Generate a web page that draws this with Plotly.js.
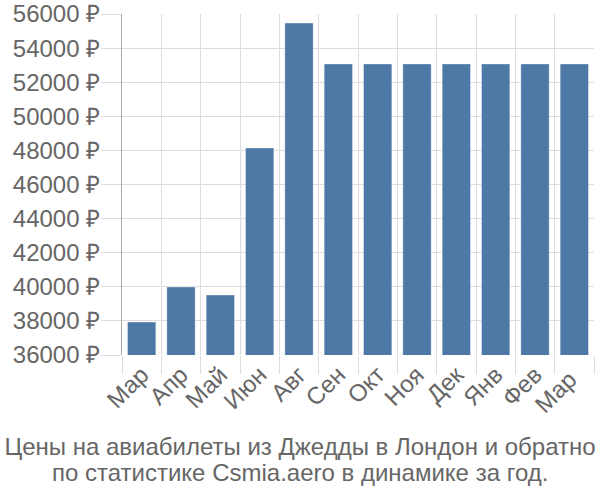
<!DOCTYPE html>
<html>
<head>
<meta charset="utf-8">
<script src="https://cdn.plot.ly/plotly-3.0.1.min.js"></script>
<style>html,body{margin:0;padding:0;background:#fff;}#chart{width:600px;height:500px;}</style>
</head>
<body>
<div id="chart"></div>
<script>
const months = ["Мар","Апр","Май","Июн","Авг","Сен","Окт","Ноя","Дек","Янв","Фев","Мар "];
const prices = [37930, 39990, 39520, 48140, 55470, 53070, 53070, 53070, 53070, 53070, 53070, 53070];
const yTicks = [36000, 38000, 40000, 42000, 44000, 46000, 48000, 50000, 52000, 54000, 56000];
const titleLines = ["Цены на авиабилеты из Джедды в Лондон и обратно", "по статистике Csmia.aero в динамике за год."];

const tickFont = {family: "Liberation Sans, Arial, sans-serif", size: 24, color: "#666"};
const titleFont = {family: "Liberation Sans, Arial, sans-serif", size: 24, color: "#666"};

Plotly.newPlot("chart", [{
  type: "bar",
  x: months,
  y: prices,
  marker: {color: "#4e79a7", line: {color: "rgba(255,255,255,0.35)", width: 1}},
  hoverinfo: "none"
}], {
  width: 600, height: 500,
  margin: {l: 122, r: 6, t: 14, b: 145},
  paper_bgcolor: "#fff", plot_bgcolor: "#fff",
  font: tickFont,
  bargap: 0.28,
  showlegend: false,
  title: {text: titleLines[0], x: 0.5, xanchor: "center", y: 0.106, yanchor: "middle", font: titleFont},
  annotations: [{
    text: titleLines[1], xref: "paper", yref: "paper", x: (300 - 122) / 472,
    xanchor: "center", y: -0.346, yanchor: "middle", showarrow: false, font: titleFont
  }],
  xaxis: {
    type: "category",
    tickson: "boundaries",
    ticks: "outside", ticklen: 18, tickcolor: "#ddd", tickwidth: 1,
    showgrid: true, gridcolor: "#ddd", gridwidth: 1,
    tickangle: -45,
    tickfont: tickFont,
    showline: false, zeroline: false
  },
  yaxis: {
    range: [36000, 56000],
    tickvals: yTicks,
    ticktext: yTicks.map(v => v + " ₽"),
    ticks: "outside", ticklen: 20, tickcolor: "#ddd", tickwidth: 1,
    ticklabelstandoff: -4,
    showgrid: true, gridcolor: "#ddd", gridwidth: 1,
    showline: true, linecolor: "#aaa", linewidth: 1,
    zeroline: false,
    tickfont: tickFont
  }
}, {displayModeBar: false, staticPlot: true});
</script>
</body>
</html>
